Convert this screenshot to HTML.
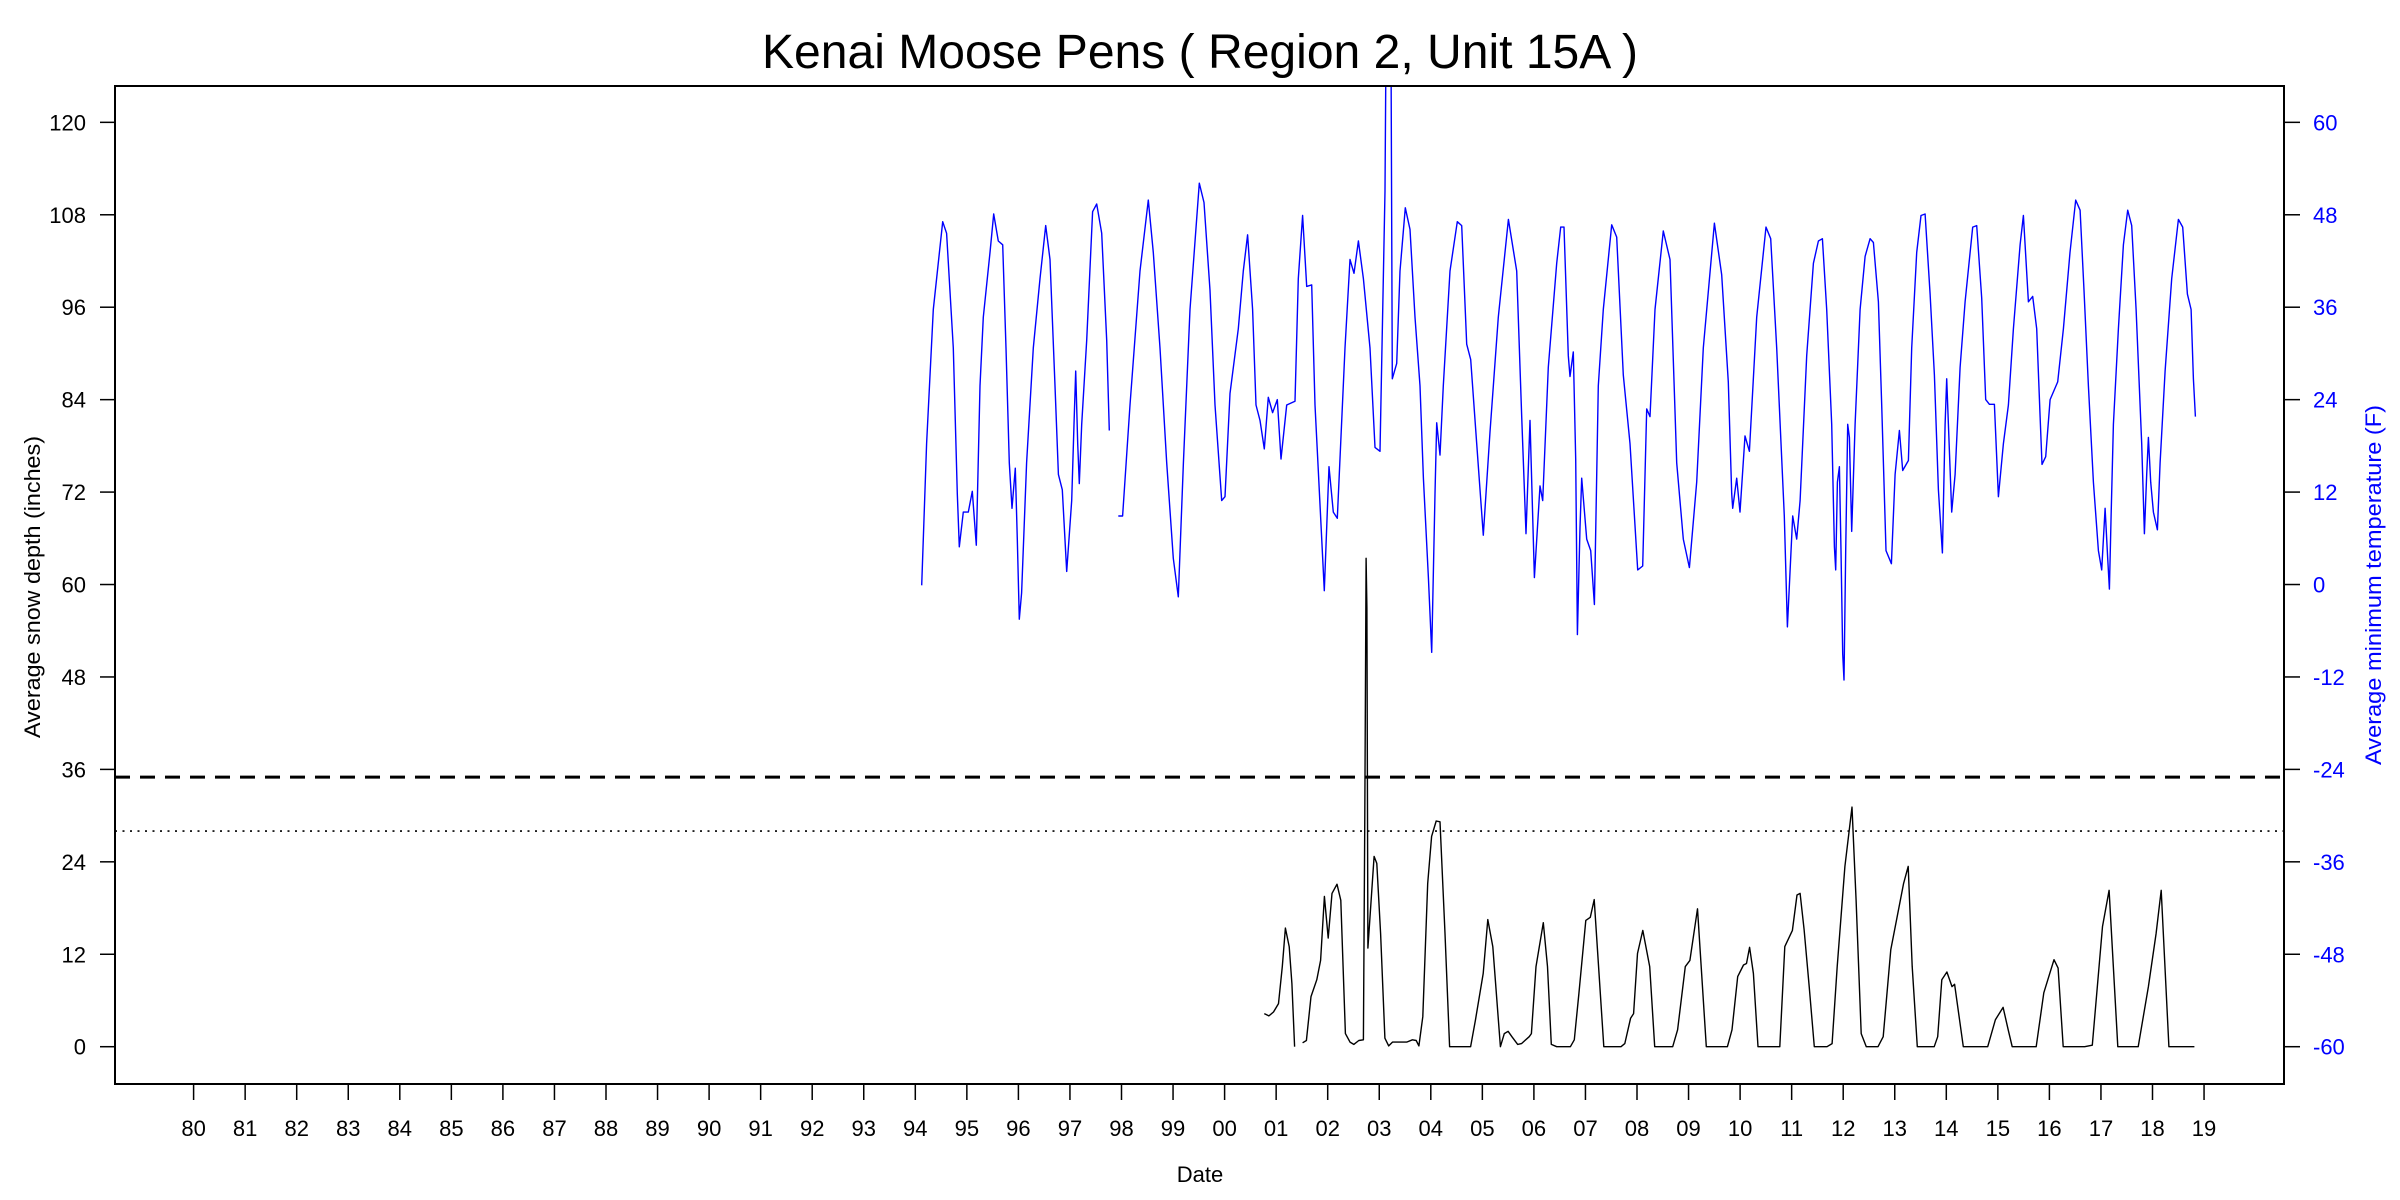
<!DOCTYPE html>
<html><head><meta charset="utf-8"><title>Kenai Moose Pens</title>
<style>html,body{margin:0;padding:0;background:#fff}svg{display:block}text{font-family:"Liberation Sans",Arial,sans-serif}</style>
</head><body>
<svg id="chart" width="2400" height="1200" viewBox="0 0 2400 1200" xmlns="http://www.w3.org/2000/svg">
<rect x="0" y="0" width="2400" height="1200" fill="#fff"/>
<text x="1200" y="68" font-size="48" text-anchor="middle" textLength="876" lengthAdjust="spacingAndGlyphs">Kenai Moose Pens ( Region 2, Unit 15A )</text>
<text x="1200" y="1182" font-size="22" text-anchor="middle">Date</text>
<text transform="translate(40,587) rotate(-90)" font-size="22" text-anchor="middle" textLength="302" lengthAdjust="spacingAndGlyphs">Average snow depth (inches)</text>
<text transform="translate(2381,585) rotate(-90)" font-size="22" text-anchor="middle" fill="#0000ff" textLength="360" lengthAdjust="spacingAndGlyphs">Average minimum temperature (F)</text>
<defs><clipPath id="plotclip"><rect x="115" y="86" width="2169" height="998"/></clipPath></defs>
<g id="axes"></g>
<g id="marks" clip-path="url(#plotclip)"></g>
<rect x="115" y="86" width="2169" height="998" fill="none" stroke="#000" stroke-width="2"/>
</svg>
<script>
const yearTicks = [1980,1981,1982,1983,1984,1985,1986,1987,1988,1989,1990,1991,1992,1993,1994,1995,1996,1997,1998,1999,2000,2001,2002,2003,2004,2005,2006,2007,2008,2009,2010,2011,2012,2013,2014,2015,2016,2017,2018,2019];
const yearLabels = ["80","81","82","83","84","85","86","87","88","89","90","91","92","93","94","95","96","97","98","99","00","01","02","03","04","05","06","07","08","09","10","11","12","13","14","15","16","17","18","19"];
const leftTicks = [0,12,24,36,48,60,72,84,96,108,120];
const rightTicks = [-60,-48,-36,-24,-12,0,12,24,36,48,60];
const thresholdDashed = 35;
const thresholdDotted = 28;
// temperature: [decimal year (years since 1900), temp F]; null = gap
const tempYears = [94.124,94.220,94.350,94.531,94.608,94.738,94.815,94.854,94.932,95.029,95.106,95.184,95.255,95.320,95.449,95.520,95.611,95.695,95.759,95.824,95.876,95.940,95.979,96.018,96.063,96.160,96.290,96.419,96.529,96.613,96.710,96.775,96.852,96.936,97.033,97.079,97.111,97.150,97.182,97.227,97.324,97.440,97.518,97.615,97.712,97.764,97.850,97.938,98.022,98.165,98.359,98.520,98.617,98.747,98.876,99.005,99.102,99.200,99.329,99.510,99.600,99.717,99.814,99.943,100.008,100.105,100.266,100.363,100.447,100.544,100.609,100.687,100.771,100.848,100.932,101.023,101.094,101.204,101.365,101.430,101.514,101.592,101.689,101.753,101.818,101.934,102.025,102.109,102.187,102.335,102.433,102.511,102.595,102.692,102.821,102.918,103.015,103.112,103.131,103.228,103.254,103.338,103.403,103.506,103.597,103.694,103.791,103.856,103.953,104.017,104.082,104.114,104.179,104.243,104.373,104.515,104.599,104.696,104.774,104.890,105.019,105.149,105.310,105.505,105.666,105.763,105.847,105.925,106.009,106.119,106.170,106.280,106.442,106.520,106.584,106.668,106.701,106.765,106.810,106.843,106.895,106.927,107.024,107.102,107.173,107.250,107.347,107.509,107.606,107.735,107.865,108.013,108.110,108.188,108.253,108.350,108.511,108.641,108.770,108.899,109.016,109.158,109.287,109.501,109.643,109.772,109.837,109.856,109.934,109.999,110.096,110.180,110.322,110.503,110.593,110.710,110.858,110.917,111.020,111.098,111.163,111.292,111.422,111.519,111.596,111.680,111.777,111.829,111.855,111.887,111.926,111.958,111.991,112.016,112.049,112.088,112.120,112.165,112.230,112.327,112.424,112.521,112.586,112.683,112.747,112.831,112.935,113.006,113.090,113.155,113.265,113.329,113.426,113.510,113.588,113.685,113.769,113.846,113.924,113.976,114.008,114.041,114.105,114.170,114.267,114.364,114.513,114.590,114.687,114.765,114.836,114.933,115.011,115.108,115.204,115.301,115.431,115.495,115.592,115.676,115.754,115.819,115.857,115.929,116.013,116.161,116.271,116.400,116.510,116.595,116.672,116.756,116.853,116.950,117.015,117.080,117.131,117.163,117.196,117.241,117.338,117.435,117.519,117.597,117.681,117.791,117.843,117.888,117.920,117.966,118.017,118.095,118.147,118.244,118.373,118.502,118.586,118.677,118.748,118.793,118.832];
const tempValues = [-0.1,18.3,35.7,47.1,45.6,30.7,11.8,4.9,9.4,9.4,12.1,5.1,25.8,34.7,43.1,48.1,44.6,44.1,30.7,15.8,9.9,15.1,5.9,-4.5,-1.1,15.8,30.7,39.7,46.6,42.2,25.8,14.3,12.3,1.7,10.9,20.8,27.7,18.3,13.1,20.8,31.7,48.4,49.4,45.6,31.7,20.0,null,8.9,8.9,23.3,40.7,49.9,43.1,30.7,15.8,3.4,-1.6,15.8,35.7,52.1,49.6,38.2,23.3,10.9,11.4,24.8,33.2,40.7,45.4,35.7,23.3,21.3,17.6,24.3,22.3,24.0,16.3,23.3,23.8,39.7,47.9,38.7,38.9,23.3,14.8,-0.8,15.3,9.4,8.6,30.7,42.2,40.4,44.6,39.7,30.7,17.8,17.3,51.1,70,70,26.7,28.7,40.7,48.9,46.1,34.7,25.8,13.8,0.9,-8.8,11.8,21.0,16.8,25.8,40.7,47.1,46.6,31.2,29.2,18.3,6.4,19.8,34.7,47.4,40.7,21.8,6.6,21.3,0.9,12.8,10.9,28.2,41.7,46.4,46.4,29.7,27.0,30.2,16.3,-6.5,7.4,13.8,5.9,4.4,-2.6,25.8,35.7,46.7,45.1,27.2,18.3,1.9,2.4,22.8,21.8,35.7,45.9,42.2,15.8,5.9,2.2,13.3,30.7,46.9,40.2,26.3,11.8,9.9,13.8,9.4,19.3,17.3,34.7,46.4,44.9,30.7,8.9,-5.5,8.9,5.9,10.9,29.7,41.7,44.6,44.9,35.7,20.8,4.9,1.9,13.3,15.3,4.4,-9.0,-12.4,4.4,20.8,19.1,6.9,20.8,35.7,42.6,44.9,44.4,36.7,23.3,4.4,2.7,14.3,20.0,14.8,16.1,30.7,43.1,47.9,48.1,37.7,27.2,12.3,4.1,20.8,26.7,20.8,9.4,14.3,28.2,36.7,46.4,46.6,37.2,24.0,23.4,23.4,11.4,18.3,23.3,33.2,44.1,47.9,36.7,37.4,33.2,21.8,15.6,16.6,24.0,26.3,33.2,43.1,49.9,48.6,38.2,25.8,13.3,4.4,1.9,9.9,3.4,-0.6,8.9,20.8,33.2,44.1,48.6,46.6,35.7,18.3,6.6,14.3,19.1,13.3,9.4,7.1,15.8,27.7,39.7,47.4,46.4,37.7,35.7,26.7,21.8];
// snow depth: [decimal year, inches]; null = gap
const snowYears = [100.770,100.859,100.948,101.045,101.119,101.179,101.253,101.305,101.357,101.440,101.513,101.587,101.676,101.788,101.862,101.936,102.010,102.084,102.181,102.255,102.344,102.433,102.507,102.604,102.693,102.720,102.745,102.760,102.780,102.901,102.953,103.027,103.109,103.183,103.257,103.532,103.643,103.717,103.769,103.844,103.940,104.015,104.104,104.178,104.275,104.364,104.772,104.868,105.017,105.106,105.202,105.351,105.425,105.500,105.574,105.685,105.760,105.908,105.952,106.041,106.182,106.264,106.338,106.442,106.709,106.784,106.873,107.006,107.095,107.170,107.355,107.689,107.764,107.875,107.934,108.009,108.113,108.246,108.343,108.692,108.788,108.937,109.026,109.174,109.345,109.753,109.842,109.954,110.065,110.124,110.184,110.258,110.347,110.770,110.867,111.015,111.104,111.164,111.241,111.340,111.439,111.686,111.785,111.884,112.033,112.171,112.250,112.349,112.448,112.676,112.775,112.924,113.171,113.260,113.339,113.438,113.765,113.834,113.913,114.012,114.111,114.161,114.329,114.705,114.804,114.952,115.101,115.200,115.279,115.744,115.892,116.090,116.169,116.268,116.684,116.833,117.031,117.159,117.327,117.723,117.921,118.070,118.169,118.318,118.812];
const snowValues = [4.3,4.0,4.5,5.6,10.4,15.4,13.0,8.2,0,null,0.5,0.8,6.5,8.7,11.2,19.5,14.1,19.9,21.1,19.0,1.7,0.6,0.3,0.8,0.9,30,63.4,57,12.8,24.7,23.8,14.7,1.1,0.1,0.6,0.6,0.9,0.8,0.1,3.9,21.2,27.3,29.3,29.2,14.7,0,0,3.5,9.5,16.5,13.0,0,1.7,2.0,1.3,0.3,0.4,1.3,1.7,10.4,16.1,10.4,0.3,0,0,0.9,6.9,16.4,16.8,19.1,0,0,0.4,3.7,4.3,12.1,15.1,10.4,0,0,2.2,10.4,11.2,17.9,0,0,2.2,9.1,10.6,10.8,12.9,9.5,0,0,13.0,15.1,19.7,19.9,15.2,7.8,0,0,0.4,10.4,23.4,31.1,19.0,1.7,0,0,1.3,12.6,21.2,23.4,10.4,0,0,1.3,8.7,9.7,7.8,8.1,0,0,0,3.5,5.1,2.2,0,0,7.0,11.3,10.2,0,0,0.2,15.6,20.3,0,0,7.8,14.7,20.3,0,0];

const NS='http://www.w3.org/2000/svg';
const X0=193.6, XPY=51.55, YB=1046.7, PPU=7.703;
function xScale(yr){return X0+(yr-1980)*XPY;}
function xScaleRel(y1900){return xScale(1900+y1900);}
function yLeft(v){return YB-v*PPU;}
function yRight(t){return YB-(t+60)*PPU;}
function mk(tag,attrs,parent){const e=document.createElementNS(NS,tag);for(const k in attrs)e.setAttribute(k,attrs[k]);parent.appendChild(e);return e;}
const axes=document.getElementById('axes'), marks=document.getElementById('marks');

yearTicks.forEach((yr,i)=>{
  const x=xScale(yr);
  const t=mk('line',{x1:x,y1:1084,x2:x,y2:1100,stroke:'#000','stroke-width':1.5},axes);
  
  
  const l=mk('text',{x:x,y:1136,'font-size':22,'text-anchor':'middle'},axes);
  l.textContent=yearLabels[i];
  
  
});
leftTicks.forEach(v=>{
  const y=yLeft(v);
  const t=mk('line',{x1:100,y1:y,x2:115,y2:y,stroke:'#000','stroke-width':1.5},axes);
  
  
  const l=mk('text',{x:86,y:y+8,'font-size':22,'text-anchor':'end'},axes);
  l.textContent=String(v);
  
  
});
rightTicks.forEach(v=>{
  const y=yRight(v);
  const t=mk('line',{x1:2284,y1:y,x2:2300,y2:y,stroke:'#000','stroke-width':1.5},axes);
  
  
  const l=mk('text',{x:2313,y:y+8,'font-size':22,'text-anchor':'start',fill:'#0000ff'},axes);
  l.textContent=String(v);
  
  
});
const dl=mk('line',{x1:115,x2:2284,y1:yLeft(thresholdDashed),y2:yLeft(thresholdDashed),stroke:'#000','stroke-width':3,'stroke-dasharray':'15 10'},marks);


const dt=mk('line',{x1:115,x2:2284,y1:yLeft(thresholdDotted),y2:yLeft(thresholdDotted),stroke:'#000','stroke-width':1.6,'stroke-dasharray':'2 5.5'},marks);



function pathFrom(xs,vs,yf){
  let d='',pen=false;
  for(let i=0;i<xs.length;i++){
    if(vs[i]===null){pen=false;continue;}
    d+=(pen?'L':'M')+xScaleRel(xs[i]).toFixed(1)+' '+yf(vs[i]).toFixed(1)+' ';
    pen=true;
  }
  return d;
}
const tp=mk('path',{d:pathFrom(tempYears,tempValues,yRight),fill:'none',stroke:'#0000ff','stroke-width':1.4,'stroke-linejoin':'round'},marks);


const sp=mk('path',{d:pathFrom(snowYears,snowValues,yLeft),fill:'none',stroke:'#000','stroke-width':1.4,'stroke-linejoin':'round'},marks);


</script>
</body></html>
